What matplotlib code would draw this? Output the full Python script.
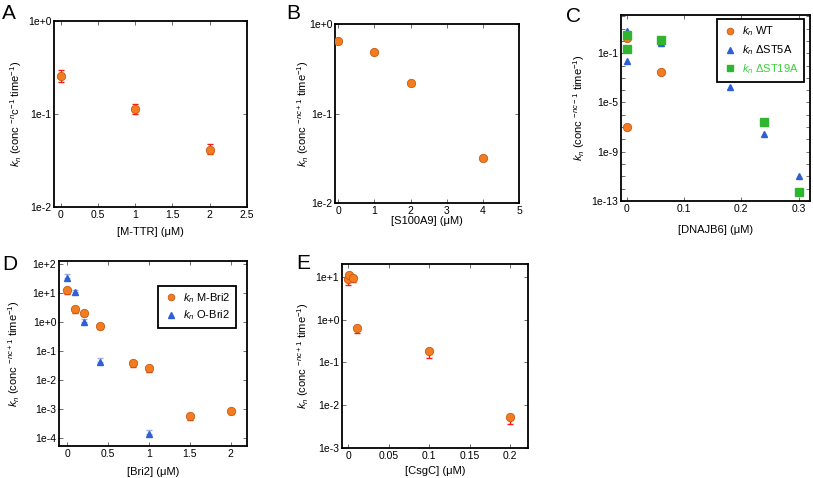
import numpy as np
import matplotlib
matplotlib.use("Agg")
import matplotlib.pyplot as plt
from matplotlib.ticker import FixedLocator, FuncFormatter, NullLocator, NullFormatter

plt.rcParams["font.family"] = ["Liberation Sans", "DejaVu Sans"]
plt.rcParams["mathtext.fontset"] = "custom"
plt.rcParams["mathtext.rm"] = "Liberation Sans"
plt.rcParams["mathtext.it"] = "Liberation Sans:italic"

ORANGE = "#f47c20"
ORANGE_EDGE = "#c65a12"
RED = "#ff1a1a"
BLUE = "#2f5fd6"
BLUE_ERR = "#9fb0e6"
GREEN = "#2fb52f"
GREEN_TXT = "#3ccf3c"

# ---- A: M-TTR ----
a_x = [0, 1, 2]
a_y = [0.254, 0.112, 0.0406]
a_lo = [0.220, 0.100, 0.037]
a_hi = [0.300, 0.127, 0.048]

# ---- B: S100A9 ----
b_x = [0, 1, 2, 4]
b_y = [0.652, 0.483, 0.218, 0.032]

# ---- C: DNAJB6 ----
c_wt_x = [0, 0, 0.06]
c_wt_y = [1.66, 1.1e-7, 3.2e-3]
c_st5_x = [0, 0, 0.06, 0.18, 0.24, 0.30]
c_st5_y = [6.5, 0.023, 0.73, 1.7e-4, 2.9e-8, 1.0e-11]
c_st19_x = [0, 0, 0.06, 0.24, 0.30]
c_st19_y = [3.1, 0.21, 1.2, 2.4e-7, 5.0e-13]

# ---- D: Bri2 ----
d_m_x = [0, 0.1, 0.2, 0.4, 0.8, 1.0, 1.5, 2.0]
d_m_y = [13, 2.7, 2.1, 0.75, 0.038, 0.025, 5.6e-4, 8.7e-4]
d_m_lo = [9.5, 2.0, 1.55, 0.55, 0.028, 0.018, 4.3e-4, 6.6e-4]
d_o_x = [0, 0.1, 0.2, 0.4, 1.0]
d_o_y = [33, 10.5, 0.97, 0.040, 1.4e-4]
d_o_hi = [45, 13, 1.3, 0.055, 1.9e-4]

# ---- E: CsgC ----
e_x = [0, 0.001, 0.005, 0.01, 0.1, 0.2]
e_y = [8.7, 11.3, 9.3, 0.65, 0.18, 5.3e-3]
e_lo = [6.6, 9.5, 7.4, 0.50, 0.13, 3.7e-3]
e_hi = [9.5, 12.5, 10.0, 0.70, 0.20, 6.0e-3]

W, H = 813, 478
fig = plt.figure(figsize=(W / 100, H / 100), dpi=100)


def add_ax(l, r, t, b):
    return fig.add_axes([l / W, 1 - b / H, (r - l) / W, (b - t) / H])


def log_fmt(v, pos):
    return f"1e{int(round(np.log10(v))):+d}"


def style(ax, xticks, xlim, ylim, ymajor, yminor=None):
    ax.set_yscale("log")
    ax.set_xlim(*xlim)
    ax.set_ylim(*ylim)
    ax.xaxis.set_major_locator(FixedLocator(xticks))
    ax.xaxis.set_major_formatter(FuncFormatter(lambda v, p: f"{v:g}"))
    ax.yaxis.set_major_locator(FixedLocator(ymajor))
    ax.yaxis.set_major_formatter(FuncFormatter(log_fmt))
    if yminor is not None:
        ax.yaxis.set_minor_locator(FixedLocator(yminor))
    else:
        ax.yaxis.set_minor_locator(NullLocator())
    ax.yaxis.set_minor_formatter(NullFormatter())
    ax.xaxis.set_minor_locator(NullLocator())
    ax.tick_params(which="both", direction="in", top=True, right=True,
                   labelsize=7.5, pad=2, width=0.6, color="#555555")
    ax.tick_params(which="major", length=3)
    ax.tick_params(which="minor", length=3)
    for s in ax.spines.values():
        s.set_linewidth(1.3)


def ylab(ax, sup):
    ax.set_ylabel(r"$k_n$ (conc " + sup + r" time$^{-1}$)", fontsize=8, labelpad=3)


def legend(ax, anchor, spacing):
    leg = ax.legend(loc="upper right", bbox_to_anchor=anchor, borderaxespad=0,
                    fontsize=8, fancybox=False, edgecolor="black", framealpha=1,
                    handletextpad=0.4, borderpad=0.5, labelspacing=spacing,
                    handlelength=1.3, markerscale=0.8)
    leg.get_frame().set_linewidth(1.3)
    return leg


mk = dict(marker="o", ms=6, mfc=ORANGE, mec=ORANGE_EDGE, mew=0.6, ls="none", zorder=3)

# A
axA = add_ax(54, 247, 21, 207)
axA.errorbar(a_x, a_y, yerr=[np.subtract(a_y, a_lo), np.subtract(a_hi, a_y)],
             fmt="none", ecolor=RED, elinewidth=1, capsize=2, capthick=1, zorder=2)
axA.plot(a_x, a_y, **mk)
style(axA, [0, 0.5, 1, 1.5, 2, 2.5], (-0.09, 2.5), (1e-2, 1), [1e-2, 1e-1, 1])
ylab(axA, r"$^{-n}$c$^{-1}$")
axA.set_xlabel("[M-TTR] (\u03bcM)", fontsize=8, labelpad=5)

# B
axB = add_ax(335, 519, 24, 203)
axB.plot(b_x, b_y, **mk)
style(axB, [0, 1, 2, 3, 4, 5], (-0.09, 5), (1e-2, 1), [1e-2, 1e-1, 1])
ylab(axB, r"$^{-nc+1}$")
axB.yaxis.set_label_coords(-0.13, 0.5)
axB.set_xlabel("[S100A9] (\u03bcM)", fontsize=8, labelpad=0)

# C
axC = add_ax(621, 810, 15, 201)
axC.plot(c_wt_x, c_wt_y, label=r"$k_n$ WT", **mk)
axC.plot(c_st5_x, c_st5_y, marker="^", ms=5, color=BLUE, ls="none", zorder=3,
         label=r"$k_n$ $\Delta$ST5A")
axC.plot(c_st19_x, c_st19_y, marker="s", ms=6, color=GREEN, ls="none", zorder=3,
         label=r"$k_n$ $\Delta$ST19A")
style(axC, [0, 0.1, 0.2, 0.3], (-0.01, 0.32), (1e-13, 10 ** 2.1),
      [1e-13, 1e-9, 1e-5, 1e-1], [10.0 ** k for k in range(-13, 3)])
ylab(axC, r"$^{-nc-1}$")
axC.set_xlabel("[DNAJB6] (\u03bcM)", fontsize=8, labelpad=8)
legC = legend(axC, (0.968, 0.978), 0.45)
legC.get_texts()[2].set_color(GREEN_TXT)

# D
axD = add_ax(59, 247, 261, 446)
axD.errorbar(d_m_x, d_m_y, yerr=[np.subtract(d_m_y, d_m_lo), np.zeros(len(d_m_y))],
             fmt="none", ecolor=RED, elinewidth=1, capsize=2, capthick=1, zorder=2)
axD.errorbar(d_o_x, d_o_y, yerr=[np.zeros(len(d_o_y)), np.subtract(d_o_hi, d_o_y)],
             fmt="none", ecolor=BLUE_ERR, elinewidth=1, capsize=2, capthick=1, zorder=2)
axD.plot(d_m_x, d_m_y, label=r"$k_n$ M-Bri2", **mk)
axD.plot(d_o_x, d_o_y, marker="^", ms=5, color=BLUE, ls="none", zorder=3,
         label=r"$k_n$ O-Bri2")
style(axD, [0, 0.5, 1, 1.5, 2], (-0.1, 2.2), (10 ** -4.28, 10 ** 2.1),
      [1e-4, 1e-3, 1e-2, 1e-1, 1, 1e1, 1e2])
ylab(axD, r"$^{-nc+1}$")
axD.yaxis.set_label_coords(-0.195, 0.5)
axD.set_xlabel("[Bri2] (\u03bcM)", fontsize=8, labelpad=6)
legend(axD, (0.941, 0.866), 0.3)

# E
axE = add_ax(342, 528, 264, 448)
axE.errorbar(e_x, e_y, yerr=[np.subtract(e_y, e_lo), np.subtract(e_hi, e_y)],
             fmt="none", ecolor=RED, elinewidth=1, capsize=2, capthick=1, zorder=2)
axE.plot(e_x, e_y, **mk)
style(axE, [0, 0.05, 0.1, 0.15, 0.2], (-0.008, 0.222), (1e-3, 10 ** 1.3),
      [1e-3, 1e-2, 1e-1, 1, 1e1])
ylab(axE, r"$^{-nc+1}$")
axE.set_xlabel("[CsgC] (\u03bcM)", fontsize=8, labelpad=4)

# panel letters
for s, x, y in [("A", 2, 4), ("B", 286, 4), ("C", 566, 7), ("D", 2, 255), ("E", 296, 254)]:
    fig.text(x / W, 1 - y / H, s, fontsize=15, ha="left", va="top")

fig.savefig("out.png", dpi=100)
